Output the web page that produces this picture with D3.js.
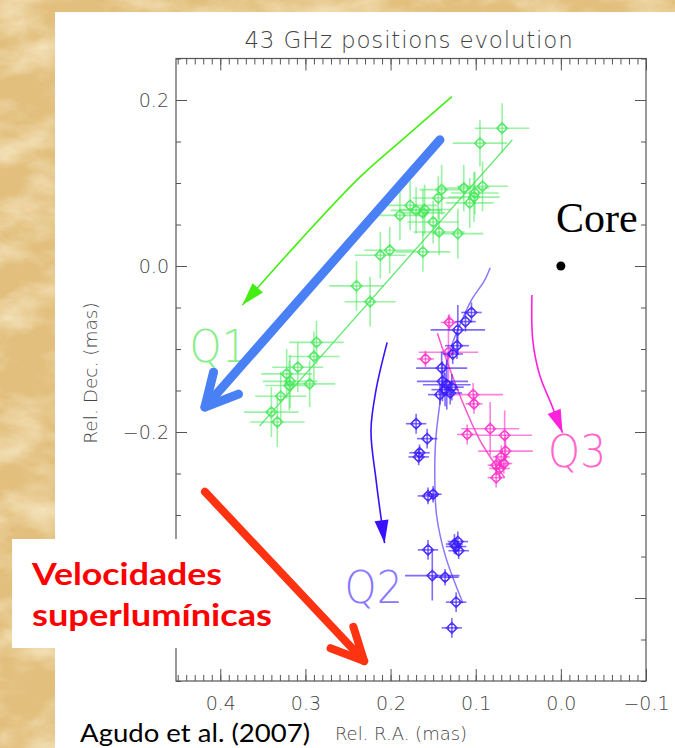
<!DOCTYPE html>
<html>
<head>
<meta charset="utf-8">
<script src="https://cdn.jsdelivr.net/npm/d3@7"></script>
<style>
    body { margin: 0; background: #e4c27f; }
    svg { display: block; }
</style>
</head>
<body>
<svg id="chart" width="675" height="748"></svg>
<script>
// Ticks (mas). The -0.4 label sits under the note box in the slide.
var xMajor = [0.4, 0.3, 0.2, 0.1, 0.0, -0.1];
var yMajor = [0.2, 0.0, -0.2, -0.4];
var yLabels = [0.2, 0.0, -0.2];

// Components: [R.A., Dec., err R.A., err Dec.] in mas.
var q1Points = [
    [0.069, 0.166, 0.032, 0.030], [0.095, 0.148, 0.032, 0.028],
    [0.092, 0.096, 0.030, 0.030], [0.114, 0.094, 0.030, 0.028],
    [0.101, 0.088, 0.028, 0.026], [0.102, 0.083, 0.030, 0.030],
    [0.107, 0.076, 0.028, 0.030], [0.140, 0.092, 0.026, 0.030],
    [0.144, 0.082, 0.030, 0.026], [0.177, 0.073, 0.032, 0.030],
    [0.170, 0.067, 0.030, 0.028], [0.160, 0.068, 0.030, 0.030],
    [0.162, 0.064, 0.026, 0.028], [0.189, 0.061, 0.030, 0.030],
    [0.150, 0.053, 0.030, 0.026], [0.143, 0.041, 0.030, 0.028],
    [0.121, 0.039, 0.030, 0.030], [0.201, 0.019, 0.030, 0.028],
    [0.212, 0.013, 0.030, 0.028], [0.162, 0.017, 0.032, 0.024],
    [0.240, -0.024, 0.032, 0.030], [0.224, -0.043, 0.030, 0.030],
    [0.287, -0.092, 0.032, 0.026], [0.290, -0.109, 0.030, 0.030],
    [0.309, -0.122, 0.030, 0.030], [0.322, -0.130, 0.030, 0.030],
    [0.318, -0.139, 0.032, 0.032], [0.319, -0.144, 0.028, 0.030],
    [0.295, -0.142, 0.030, 0.028], [0.329, -0.157, 0.030, 0.030],
    [0.340, -0.176, 0.032, 0.030], [0.333, -0.188, 0.032, 0.030]
];

var q2Points = [
    [0.105, -0.056, 0.012, 0.012], [0.112, -0.067, 0.012, 0.012],
    [0.121, -0.077, 0.032, 0.030], [0.122, -0.096, 0.014, 0.016],
    [0.127, -0.106, 0.012, 0.012], [0.140, -0.123, 0.030, 0.020],
    [0.139, -0.139, 0.030, 0.024], [0.134, -0.143, 0.028, 0.030],
    [0.128, -0.146, 0.014, 0.016], [0.136, -0.149, 0.016, 0.020],
    [0.130, -0.153, 0.014, 0.014], [0.142, -0.155, 0.014, 0.012],
    [0.170, -0.190, 0.012, 0.012], [0.157, -0.208, 0.012, 0.012],
    [0.166, -0.225, 0.012, 0.010], [0.167, -0.230, 0.012, 0.010],
    [0.156, -0.277, 0.012, 0.010], [0.150, -0.275, 0.010, 0.010],
    [0.121, -0.332, 0.012, 0.012], [0.123, -0.338, 0.012, 0.010],
    [0.120, -0.343, 0.012, 0.010], [0.125, -0.335, 0.010, 0.012],
    [0.156, -0.342, 0.012, 0.012], [0.151, -0.373, 0.032, 0.030],
    [0.136, -0.375, 0.016, 0.010], [0.123, -0.405, 0.012, 0.012],
    [0.128, -0.436, 0.012, 0.012]
];

var q3Points = [
    [0.131, -0.068, 0.010, 0.010], [0.159, -0.112, 0.010, 0.010],
    [0.132, -0.104, 0.035, 0.045], [0.103, -0.155, 0.035, 0.014],
    [0.102, -0.166, 0.010, 0.012], [0.110, -0.203, 0.012, 0.012],
    [0.083, -0.196, 0.034, 0.032], [0.066, -0.204, 0.032, 0.030],
    [0.065, -0.223, 0.032, 0.020], [0.070, -0.230, 0.010, 0.014],
    [0.076, -0.240, 0.010, 0.012], [0.072, -0.244, 0.012, 0.012],
    [0.067, -0.238, 0.010, 0.012], [0.076, -0.255, 0.010, 0.012]
];

// Fitted trajectories.
var q1Fit = [[0.354, -0.193], [0.057, 0.152]];
var q2Fit = [[0.083, -0.002], [0.090, -0.018], [0.105, -0.041], [0.116, -0.065],
    [0.128, -0.095], [0.136, -0.125], [0.142, -0.165], [0.147, -0.210],
    [0.148, -0.258], [0.146, -0.300], [0.136, -0.348], [0.115, -0.406]];
var q3Fit = [[0.145, -0.081], [0.133, -0.117], [0.115, -0.165],
    [0.095, -0.210], [0.075, -0.242], [0.066, -0.255]];

// Motion arrows drawn over the plot.
var q1Arrow = [[0.128, 0.204], [0.183, 0.155], [0.236, 0.107], [0.307, 0.030], [0.374, -0.047]];
var q2Arrow = [[0.204, -0.092], [0.217, -0.149], [0.223, -0.198], [0.217, -0.258], [0.207, -0.334]];
var q3Arrow = [[0.034, -0.035], [0.033, -0.089], [0.025, -0.131], [0.011, -0.167], [-0.002, -0.201]];
var blueArrow = [[0.142, 0.152], [0.418, -0.170]];
var redArrow = [[0.418, -0.272], [0.231, -0.476]];

var core = [0.0, 0.0];

var svg = d3.select("#chart");

// Parchment background.
var defs = svg.append("defs");
var paper = defs.append("filter").attr("id", "paper")
    .attr("x", 0).attr("y", 0).attr("width", "100%").attr("height", "100%");
paper.append("feTurbulence")
    .attr("type", "fractalNoise")
    .attr("baseFrequency", "0.018 0.03")
    .attr("numOctaves", 5)
    .attr("seed", 11);
paper.append("feColorMatrix")
    .attr("type", "matrix")
    .attr("values", "0 0 0 0 0.97  0 0 0 0 0.88  0 0 0 0 0.66  1.5 0 0 0 -0.6");

svg.append("rect").attr("width", 675).attr("height", 748).attr("fill", "#e2bf7d");
svg.append("rect").attr("width", 675).attr("height", 748).attr("filter", "url(#paper)");

// White slide panel.
svg.append("rect")
    .attr("x", 55).attr("y", 12)
    .attr("width", 620).attr("height", 736)
    .attr("fill", "#fff");

var x = d3.scaleLinear().domain([0.452, -0.1]).range([176, 646]);
var y = d3.scaleLinear().domain([-0.5, 0.25]).range([681, 58.5]);

var hershey = "'DejaVu Sans', sans-serif";

svg.append("text")
    .attr("x", 409).attr("y", 48)
    .attr("text-anchor", "middle")
    .style("font-family", hershey)
    .style("font-weight", 200)
    .style("font-size", "23px")
    .style("letter-spacing", "0.8px")
    .attr("fill", "#444")
    .text("43 GHz positions evolution");

var line = d3.line()
    .x(function (d) { return x(d[0]); })
    .y(function (d) { return y(d[1]); });

var curve = d3.line()
    .curve(d3.curveCatmullRom)
    .x(function (d) { return x(d[0]); })
    .y(function (d) { return y(d[1]); });

var plot = svg.append("g");

// Fit lines.
plot.append("path").attr("d", line(q1Fit))
    .attr("fill", "none").attr("stroke", "#5fe86d").attr("stroke-width", 1.3);
plot.append("path").attr("d", curve(q2Fit))
    .attr("fill", "none").attr("stroke", "#8a78ff").attr("stroke-width", 1.5);
plot.append("path").attr("d", curve(q3Fit))
    .attr("fill", "none").attr("stroke", "#ff55cc").attr("stroke-width", 1.5);

// Error-bar points with diamond + circle markers.
function drawPoints(data, color, barOpacity) {
    var g = plot.append("g")
        .selectAll("g")
        .data(data)
        .enter()
        .append("g")
        .attr("transform", function (d) {
            return "translate(" + x(d[0]) + "," + y(d[1]) + ")";
        });

    g.append("line")
        .attr("x1", function (d) { return x(d[0] + d[2]) - x(d[0]); })
        .attr("x2", function (d) { return x(d[0] - d[2]) - x(d[0]); })
        .attr("stroke", color).attr("stroke-width", 1.6)
        .attr("stroke-opacity", barOpacity);

    g.append("line")
        .attr("y1", function (d) { return y(d[1] + d[3]) - y(d[1]); })
        .attr("y2", function (d) { return y(d[1] - d[3]) - y(d[1]); })
        .attr("stroke", color).attr("stroke-width", 1.6)
        .attr("stroke-opacity", barOpacity);

    g.append("path")
        .attr("d", "M0,-5.5L5.5,0L0,5.5L-5.5,0Z")
        .attr("fill", "none").attr("stroke", color)
        .attr("stroke-width", 1.2).attr("stroke-opacity", 0.85);

    g.append("circle")
        .attr("r", 3.6)
        .attr("fill", "none").attr("stroke", color)
        .attr("stroke-width", 1.1).attr("stroke-opacity", 0.85);
}

drawPoints(q1Points, "#47e85a", 0.55);
drawPoints(q3Points, "#ff2fc8", 0.6);
drawPoints(q2Points, "#3a1cff", 0.65);

// Axes with inward ticks.
var fmt = d3.format(".1f");
var xMinor = d3.range(-10, 46).map(function (i) { return i / 100; });
var yMinor = d3.range(-10, 6).map(function (i) { return i / 20; });

function styleAxis(g) {
    g.select(".domain").remove();
    g.selectAll(".tick line").attr("stroke", "#555");
    g.selectAll(".tick text")
        .attr("fill", "#444")
        .style("font-family", hershey)
        .style("font-weight", 200)
        .style("font-size", "19px");
}

svg.append("g").attr("transform", "translate(0,681)")
    .call(d3.axisBottom(x).tickValues(xMinor).tickSize(-6).tickFormat(""))
    .call(styleAxis);
svg.append("g").attr("transform", "translate(0,681)")
    .call(d3.axisBottom(x).tickValues(xMajor).tickSize(-12).tickPadding(16).tickFormat(fmt))
    .call(styleAxis);
svg.append("g").attr("transform", "translate(0,58.5)")
    .call(d3.axisTop(x).tickValues(xMinor).tickSize(-6).tickFormat(""))
    .call(styleAxis);
svg.append("g").attr("transform", "translate(0,58.5)")
    .call(d3.axisTop(x).tickValues(xMajor).tickSize(-12).tickFormat(""))
    .call(styleAxis);
svg.append("g").attr("transform", "translate(176,0)")
    .call(d3.axisLeft(y).tickValues(yMinor).tickSize(-5).tickFormat(""))
    .call(styleAxis);
svg.append("g").attr("transform", "translate(176,0)")
    .call(d3.axisLeft(y).tickValues(yMajor).tickSize(-11).tickFormat(""))
    .call(styleAxis);
svg.append("g").attr("transform", "translate(176,0)")
    .call(d3.axisLeft(y).tickValues(yLabels).tickSize(0).tickPadding(7).tickFormat(fmt))
    .call(styleAxis);
svg.append("g").attr("transform", "translate(646,0)")
    .call(d3.axisRight(y).tickValues(yMinor).tickSize(-5).tickFormat(""))
    .call(styleAxis);
svg.append("g").attr("transform", "translate(646,0)")
    .call(d3.axisRight(y).tickValues(yMajor).tickSize(-11).tickFormat(""))
    .call(styleAxis);

svg.append("rect")
    .attr("x", x(0.452)).attr("y", y(0.25))
    .attr("width", x(-0.1) - x(0.452)).attr("height", y(-0.5) - y(0.25))
    .attr("fill", "none").attr("stroke", "#555").attr("stroke-width", 1.2);

// Axis titles.
svg.append("text")
    .attr("transform", "translate(97,373) rotate(-90)")
    .attr("text-anchor", "middle")
    .style("font-family", hershey).style("font-weight", 200).style("font-size", "18.5px")
    .attr("fill", "#444")
    .text("Rel. Dec. (mas)");

svg.append("text")
    .attr("x", 401).attr("y", 740)
    .attr("text-anchor", "middle")
    .style("font-family", hershey).style("font-weight", 200).style("font-size", "18px")
    .attr("fill", "#444")
    .text("Rel. R.A. (mas)");

// Thin curved arrows with filled heads.
function thinArrow(data, color) {
    var pts = data.map(function (d) { return [x(d[0]), y(d[1])]; });
    var tip = pts[pts.length - 1];
    var prev = pts[pts.length - 2];
    var a = Math.atan2(tip[1] - prev[1], tip[0] - prev[0]);
    var len = 23, half = 7;
    var bx = tip[0] - len * Math.cos(a), by = tip[1] - len * Math.sin(a);

    svg.append("path").attr("d", curve(data))
        .attr("fill", "none").attr("stroke", color).attr("stroke-width", 1.6);

    svg.append("path")
        .attr("d", "M" + tip + "L" + [bx + half * Math.sin(a), by - half * Math.cos(a)] +
            "L" + [bx - half * Math.sin(a), by + half * Math.cos(a)] + "Z")
        .attr("fill", color);
}

thinArrow(q1Arrow, "#44ee10");
thinArrow(q2Arrow, "#3a10ff");
thinArrow(q3Arrow, "#ff22dd");

// Component labels.
var labels = [
    { t: "Q1", p: [0.436, -0.116], c: "#86ee8a" },
    { t: "Q2", p: [0.254, -0.406], c: "#8877ff" },
    { t: "Q3", p: [0.015, -0.242], c: "#ff66cc" }
];

svg.selectAll("text.qlabel")
    .data(labels)
    .enter()
    .append("text")
    .attr("class", "qlabel")
    .attr("x", function (d) { return x(d.p[0]); })
    .attr("y", function (d) { return y(d.p[1]); })
    .attr("textLength", 58)
    .attr("lengthAdjust", "spacingAndGlyphs")
    .style("font-family", hershey).style("font-weight", 200).style("font-size", "45px")
    .attr("fill", function (d) { return d.c; })
    .text(function (d) { return d.t; });

// Core.
svg.append("circle")
    .attr("cx", x(core[0])).attr("cy", y(core[1])).attr("r", 4.5)
    .attr("fill", "#000");

svg.append("text")
    .attr("x", 556).attr("y", 232)
    .style("font-family", "'Liberation Serif', serif").style("font-size", "42px")
    .attr("fill", "#000")
    .text("Core");

// Thick arrows with open heads.
function thickArrow(data, color, width, len, ang) {
    var p0 = [x(data[0][0]), y(data[0][1])];
    var p1 = [x(data[1][0]), y(data[1][1])];
    var a = Math.atan2(p1[1] - p0[1], p1[0] - p0[0]);
    var l = [p1[0] - len * Math.cos(a - ang), p1[1] - len * Math.sin(a - ang)];
    var r = [p1[0] - len * Math.cos(a + ang), p1[1] - len * Math.sin(a + ang)];

    var g = svg.append("g")
        .attr("fill", "none").attr("stroke", color)
        .attr("stroke-width", width).attr("stroke-linecap", "round")
        .attr("stroke-linejoin", "round");

    g.append("path").attr("d", "M" + p0 + "L" + p1);
    g.append("path").attr("d", "M" + l + "L" + p1 + "L" + r);
}

thickArrow(blueArrow, "#4a80f5", 9, 36, 0.48);

// Superluminal note.
svg.append("rect")
    .attr("x", 12).attr("y", 539)
    .attr("width", 262).attr("height", 109)
    .attr("fill", "#fff");

svg.append("text")
    .attr("x", 32).attr("y", 585)
    .attr("textLength", 190).attr("lengthAdjust", "spacingAndGlyphs")
    .style("font-family", "Lato, sans-serif").style("font-weight", 700).style("font-size", "30px")
    .attr("fill", "#ff0000")
    .text("Velocidades");

svg.append("text")
    .attr("x", 32).attr("y", 626)
    .attr("textLength", 240).attr("lengthAdjust", "spacingAndGlyphs")
    .style("font-family", "Lato, sans-serif").style("font-weight", 700).style("font-size", "30px")
    .attr("fill", "#ff0000")
    .text("superlumínicas");

thickArrow(redArrow, "#ff3311", 8, 36, 0.45);

svg.append("text")
    .attr("x", 80).attr("y", 742)
    .attr("textLength", 230).attr("lengthAdjust", "spacingAndGlyphs")
    .style("font-family", "Lato, sans-serif").style("font-size", "25px")
    .attr("fill", "#000")
    .text("Agudo et al. (2007)");
</script>
</body>
</html>
